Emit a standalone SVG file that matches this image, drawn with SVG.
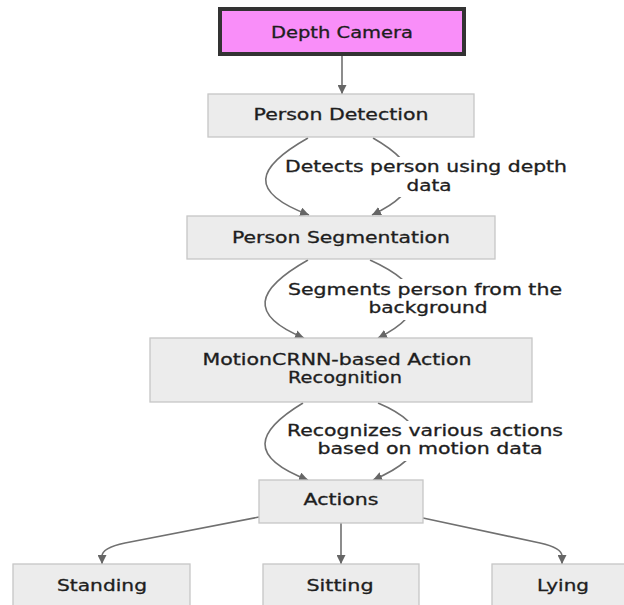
<svg xmlns="http://www.w3.org/2000/svg" width="624" height="605" viewBox="0 0 624 605">
<style>
.node rect{fill:#ececec;stroke:#c6c6c6;stroke-width:1.3}
#depth-camera rect{fill:#f98ef9;stroke:#333;stroke-width:4}
text{font-family:"DejaVu Sans","Liberation Sans",sans-serif;font-size:15px;fill:#1e1e1e;stroke:#1e1e1e;stroke-width:0.3;text-anchor:middle}
.edge{fill:none;stroke:#707070;stroke-width:1.6}
.lbl{fill:#fff;stroke:none}
</style>
<defs>
<marker id="arr" viewBox="0 0 10 10" refX="10" refY="5" markerWidth="9" markerHeight="9" markerUnits="userSpaceOnUse" orient="auto">
<path d="M0,0 L10,5 L0,10 z" fill="#666"/>
</marker>
</defs>
<rect width="624" height="605" fill="#fff"/>
<g id="connectors">
<path class="edge" d="M342,56 L342,94" marker-end="url(#arr)"/>
<path class="edge" d="M308,138 C255,168 248,192 309,215" marker-end="url(#arr)"/>
<path class="edge" d="M373,138 C420,165 425,190 372,215" marker-end="url(#arr)"/>
<rect class="lbl" x="283" y="157" width="287" height="40"/>
<text x="426" y="172" textLength="282" lengthAdjust="spacingAndGlyphs">Detects person using depth</text>
<text x="429" y="191" textLength="45" lengthAdjust="spacingAndGlyphs">data</text>
<path class="edge" d="M308,260 C255,290 248,315 304,338" marker-end="url(#arr)"/>
<path class="edge" d="M370,260 C425,285 430,312 378,338" marker-end="url(#arr)"/>
<rect class="lbl" x="285" y="279" width="281" height="41"/>
<text x="425" y="295" textLength="274" lengthAdjust="spacingAndGlyphs">Segments person from the</text>
<text x="428" y="313" textLength="119" lengthAdjust="spacingAndGlyphs">background</text>
<path class="edge" d="M303,403 C255,432 248,457 308,480" marker-end="url(#arr)"/>
<path class="edge" d="M378,403 C430,425 432,455 373,480" marker-end="url(#arr)"/>
<rect class="lbl" x="284" y="421" width="283" height="40"/>
<text x="425" y="436" textLength="276" lengthAdjust="spacingAndGlyphs">Recognizes various actions</text>
<text x="430" y="454" textLength="225" lengthAdjust="spacingAndGlyphs">based on motion data</text>
<path class="edge" d="M259,517 L125,543 Q102,548 102,556 L102,564" marker-end="url(#arr)"/>
<path class="edge" d="M341,523 L341,564" marker-end="url(#arr)"/>
<path class="edge" d="M423,518 L540,543 Q562,548 562,556 L562,564" marker-end="url(#arr)"/>
</g>
<g id="depth-camera" class="node">
<rect x="220" y="9" width="244" height="45"/>
<text x="342" y="38" textLength="142" lengthAdjust="spacingAndGlyphs">Depth Camera</text>
</g>
<g id="person-detection" class="node">
<rect x="208" y="94" width="266" height="43"/>
<text x="341" y="120" textLength="175" lengthAdjust="spacingAndGlyphs">Person Detection</text>
</g>
<g id="person-segmentation" class="node">
<rect x="187" y="216" width="308" height="43"/>
<text x="341" y="243" textLength="218" lengthAdjust="spacingAndGlyphs">Person Segmentation</text>
</g>
<g id="action-recognition" class="node">
<rect x="150" y="338" width="382" height="64"/>
<text x="337" y="365" textLength="269" lengthAdjust="spacingAndGlyphs">MotionCRNN-based Action</text>
<text x="345" y="383" textLength="114" lengthAdjust="spacingAndGlyphs">Recognition</text>
</g>
<g id="actions" class="node">
<rect x="259" y="480" width="164" height="43"/>
<text x="341" y="505" textLength="75" lengthAdjust="spacingAndGlyphs">Actions</text>
</g>
<g id="standing" class="node">
<rect x="13" y="564" width="177" height="50"/>
<text x="102" y="591" textLength="90" lengthAdjust="spacingAndGlyphs">Standing</text>
</g>
<g id="sitting" class="node">
<rect x="263" y="564" width="156" height="50"/>
<text x="340" y="591" textLength="67" lengthAdjust="spacingAndGlyphs">Sitting</text>
</g>
<g id="lying" class="node">
<rect x="492" y="564" width="145" height="50"/>
<text x="563" y="591" textLength="52" lengthAdjust="spacingAndGlyphs">Lying</text>
</g>
</svg>
